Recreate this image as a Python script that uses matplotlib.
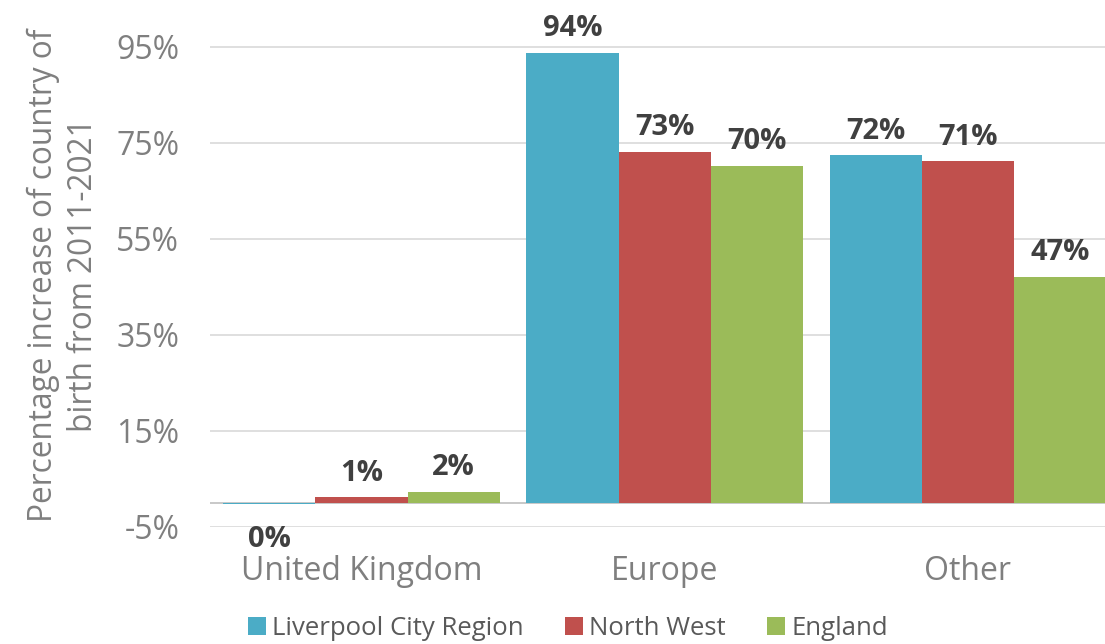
import numpy as np
import matplotlib.pyplot as plt

# Chart data
categories = ["United Kingdom", "Europe", "Other"]
series_names = ["Liverpool City Region", "North West", "England"]
lcr = [-0.3, 93.8, 72.4]
north_west = [1.2, 73.1, 71.2]
england = [2.3, 70.2, 47.1]
label_text = [["0%", "94%", "72%"], ["1%", "73%", "71%"], ["2%", "70%", "47%"]]
yticks = [-5, 15, 35, 55, 75, 95]

colors = ["#4BACC6", "#C0504D", "#9BBB59"]
grey = "#7F7F7F"

plt.rcParams['font.family'] = ['Open Sans', 'DejaVu Sans']

fig = plt.figure(figsize=(11.05, 6.44), dpi=100)
ax = fig.add_axes([0.19, 0.1817, 0.823, 0.7826])

x = np.arange(len(categories))
width = 0.304
all_series = [lcr, north_west, england]

for i, (vals, name, col) in enumerate(zip(all_series, series_names, colors)):
    pos = x + (i - 1) * width
    ax.bar(pos, vals, width, color=col, label=name, zorder=3)
    for px, v, txt in zip(pos, vals, label_text[i]):
        if v < 0:
            ax.annotate(txt, (px, v), xytext=(0, -15), textcoords="offset points",
                        ha="center", va="top", fontsize=21, fontweight="bold",
                        color="#404040")
        else:
            ax.annotate(txt, (px, v), xytext=(0, 7), textcoords="offset points",
                        ha="center", va="bottom", fontsize=21, fontweight="bold",
                        color="#404040")

ax.set_xlim(-0.5, 2.5)
ax.set_ylim(-5, 100)
ax.set_yticks(yticks)
ax.set_yticklabels([f"{t}%" for t in yticks])
ax.set_xticks(x)
ax.set_xticklabels(categories)
ax.tick_params(axis="both", length=0, labelsize=23, labelcolor=grey)
ax.tick_params(axis="x", pad=20)
ax.tick_params(axis="y", pad=22)
ax.grid(axis="y", color="#D9D9D9", linewidth=1.2, zorder=0)
ax.axhline(0, color="#BFBFBF", linewidth=1.2, zorder=2)
for s in ax.spines.values():
    s.set_visible(False)

ax.set_ylabel("Percentage increase of country of\nbirth from 2011-2021",
              fontsize=22.7, color=grey, labelpad=12, linespacing=1.25)

fig.legend(loc="center", bbox_to_anchor=(0.514, 0.024), ncol=3, frameon=False,
           fontsize=18.5, labelcolor="#595959", handlelength=0.7, handleheight=0.7,
           handletextpad=0.25, columnspacing=1.6)

fig.savefig("out.png", dpi=100)
